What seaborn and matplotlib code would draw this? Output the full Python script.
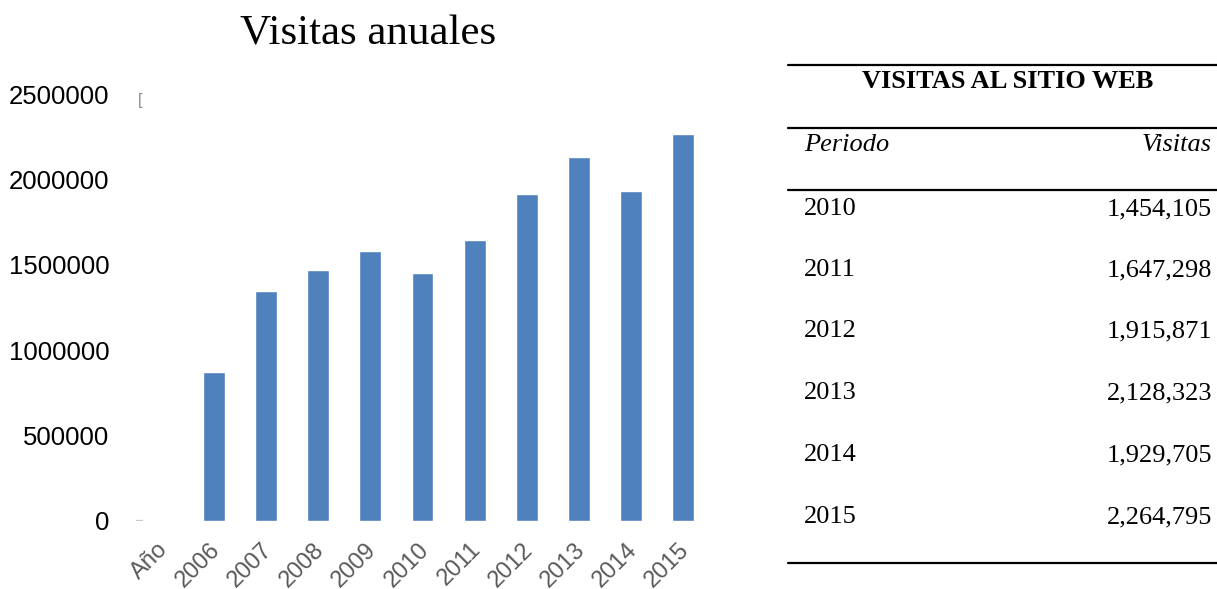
import matplotlib
matplotlib.use("Agg")
import matplotlib.pyplot as plt
import matplotlib.transforms as mtransforms
import seaborn as sns
import pandas as pd

# data
categorias = ["Año", "2006", "2007", "2008", "2009", "2010",
              "2011", "2012", "2013", "2014", "2015"]
visitas = [0, 875000, 1349000, 1471000, 1582000, 1454105,
           1647298, 1915871, 2128323, 1929705, 2264795]

tabla_periodos = ["2010", "2011", "2012", "2013", "2014", "2015"]
tabla_visitas = [1454105, 1647298, 1915871, 2128323, 1929705, 2264795]

df = pd.DataFrame({"cat": categorias, "visitas": visitas})

sns.set_style("white")
plt.rcParams["font.family"] = ["Liberation Sans", "DejaVu Sans"]
plt.rcParams["text.color"] = "black"

fig = plt.figure(figsize=(12.17, 5.89), dpi=100)
W, H = 1217, 589

# chart
ax = fig.add_axes([136 / W, (H - 521) / H, (709 - 136) / W, (521 - 94) / H])
sns.barplot(data=df, x="cat", y="visitas", color="#4f81bd", width=0.42,
            saturation=1, ax=ax)
ax.axhline(0, xmin=0, xmax=0.011, color="#c8c8c8", lw=1.6)
ax.set_ylim(0, 2500000)
ax.set_yticks([0, 500000, 1000000, 1500000, 2000000, 2500000])
ax.set_yticklabels(["0", "500000", "1000000", "1500000", "2000000", "2500000"])
ax.set_xlabel("")
ax.set_ylabel("")
sns.despine(ax=ax, left=True, bottom=True, top=True, right=True)
ax.tick_params(axis="y", labelsize=18.5, pad=19, length=0, colors="black")
ax.tick_params(axis="x", labelsize=17, length=0, labelcolor="#595959", pad=4)
shift = mtransforms.ScaledTranslation(-0.05, -0.12, fig.dpi_scale_trans)
for lab in ax.get_xticklabels():
    lab.set_rotation(45)
    lab.set_ha("right")
    lab.set_rotation_mode("anchor")
    lab.set_transform(lab.get_transform() + shift)
fig.text(140 / W, 1 - 100 / H, "[", ha="center", va="center",
         fontsize=12, color="#8c8c8c")
fig.text(368 / W, 1 - 34 / H, "Visitas anuales", ha="center", va="center",
         fontsize=31, family=["Liberation Serif", "DejaVu Serif"])

# table
serif = ["Liberation Serif", "DejaVu Serif"]
x0, x1 = 788 / W, 1217 / W
for yy in [65, 128, 190, 563]:
    fig.add_artist(plt.Line2D([x0, x1], [1 - yy / H, 1 - yy / H],
                              color="black", lw=1.6))
fig.text(1008 / W, 1 - 82 / H, "VISITAS AL SITIO WEB", ha="center",
         va="center", fontsize=19, fontweight="bold", family=serif)
fig.text(804 / W, 1 - 145 / H, "Periodo", ha="left", va="center",
         fontsize=19, style="italic", family=serif)
fig.text(1212 / W, 1 - 145 / H, "Visitas", ha="right", va="center",
         fontsize=19, style="italic", family=serif)
row_y = [209, 270, 331, 393, 455, 517]
for yy, p, v in zip(row_y, tabla_periodos, tabla_visitas):
    fig.text(804 / W, 1 - yy / H, p, ha="left", va="center",
             fontsize=19, family=serif)
    fig.text(1212 / W, 1 - yy / H, f"{v:,}", ha="right", va="center",
             fontsize=19, family=serif)

fig.savefig("out.png", dpi=100)
